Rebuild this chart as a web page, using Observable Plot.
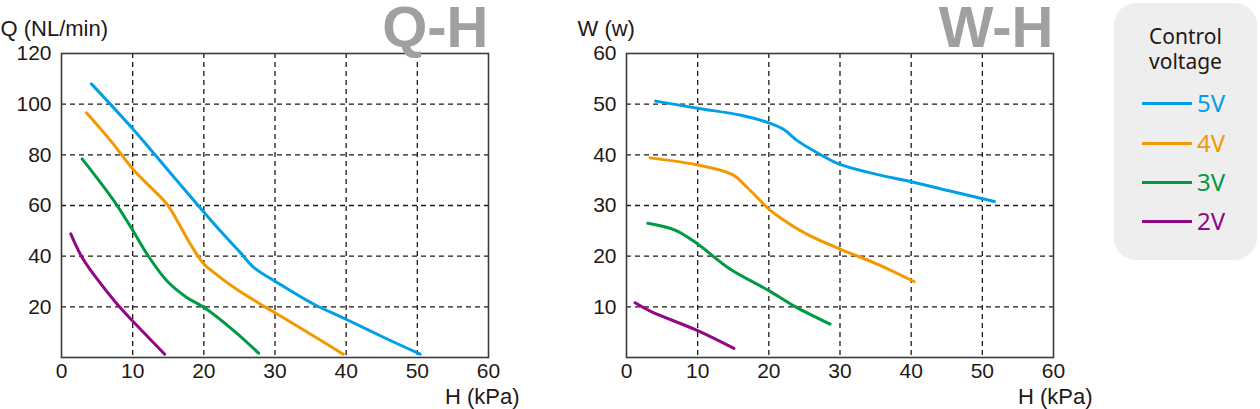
<!DOCTYPE html>
<html><head><meta charset="utf-8">
<script src="https://cdn.jsdelivr.net/npm/d3@7"></script>
<script src="https://cdn.jsdelivr.net/npm/@observablehq/plot@0.6"></script>
<style>
html,body{margin:0;padding:0;background:#fff;}
#wrap{position:relative;width:1260px;height:409px;overflow:hidden;}
.chart{position:absolute;top:0;}
#legend{position:absolute;left:1114px;top:3px;width:143px;height:257px;background:#eeeeee;border-radius:22px;font-family:"Noto Sans",sans-serif;color:#231815;}
#legend .ttl{position:absolute;left:0;right:0;text-align:center;font-size:21px;line-height:20px;}
#legend .row{position:absolute;left:28px;height:30px;display:flex;align-items:center;}
#legend .sw{width:50px;height:3px;margin-right:5px;}
#legend .lb{font-size:24px;line-height:30px;}
</style></head>
<body><div id="wrap"><div id="legend"><div class="ttl" style="top:23px">Control</div><div class="ttl" style="top:48px">voltage</div></div></div>
<script>
const series = ["5V","4V","3V","2V"];
const colors = ["#00a0e9","#f39800","#009944","#920783"];
const xTicks = [0,10,20,30,40,50,60];
const qTicks = [20,40,60,80,100,120];
const wTicks = [10,20,30,40,50,60];

// Q-H curves: [H (kPa), Q (NL/min)]
const qh5V = [[4.2,108],[10,90.3],[14.8,74.5],[19.8,58],[22.3,50],[25.1,41.5],[27,35.6],[30.3,29.6],[35.4,21.1],[39.9,15.2],[45.3,7.9],[50.4,1.3]];
const qh4V = [[3.5,96.6],[6.9,85.6],[10.2,73.8],[14.8,60.6],[16,55.3],[18.1,44.8],[20,36.9],[21.4,33.6],[24.2,27.7],[27.9,21.1],[30.3,17.2],[35,9.2],[39.6,1.3]];
const qh3V = [[2.9,78.4],[7.35,61.9],[9.9,50.7],[12,40.9],[14.8,30.3],[17.6,23.7],[20,19.8],[24.2,10.6],[27.7,1.7]];
const qh2V = [[1.3,48.8],[2.9,39.5],[5,31],[7.8,21.1],[10.2,13.8],[14.5,1.3]];

// W-H curves: [H (kPa), W (w)]
const wh5V = [[4.1,50.6],[10,49.2],[16.1,47.8],[20,46.3],[22.1,45],[24,42.8],[26.8,40.4],[30,38.1],[35.3,36.1],[40,34.7],[45.6,32.8],[51.7,30.8]];
const wh4V = [[3.3,39.4],[10,38],[14.9,36.1],[17,33.5],[20,29.3],[21.7,27.5],[25.4,24.3],[30,21.4],[35.3,18.4],[40.4,15]];
const wh3V = [[3,26.5],[6.9,25.1],[10,22.4],[14.6,17.4],[20,13.2],[23.5,10.2],[28.6,6.6]];
const wh2V = [[1.2,10.8],[3.4,9.1],[10,5.3],[15.1,1.8]];

function rows(list){
  return list.flatMap((pts,i)=>pts.map(([h,v])=>({series:series[i],h,v})));
}

function chart({data, yMax, yTicks, yLabel, title, hDx, lDx}){
  const grid = {stroke:"#231815", strokeOpacity:1, strokeDasharray:"5,4", strokeWidth:1.3};
  const el = Plot.plot({
    width:540, height:409, marginLeft:61, marginRight:52, marginTop:53, marginBottom:52,
    x:{domain:[0,60]}, y:{domain:[0,yMax]},
    color:{domain:series, range:colors},
    style:{fontFamily:"'Liberation Sans', Arial, sans-serif", fontSize:"21px", color:"#231815", background:"transparent", overflow:"visible"},
    marks:[
      Plot.gridX(xTicks.filter(d=>d>0&&d<60), grid),
      Plot.gridY(yTicks.filter(d=>d<yMax), grid),
      Plot.line(rows(data), {x:"h", y:"v", stroke:"series", curve:"catmull-rom", strokeWidth:3}),
      Plot.frame({stroke:"#3e3a39", strokeWidth:1.6}),
      Plot.axisX(xTicks, {tickSize:0, tickPadding:6, label:null, fontSize:21}),
      Plot.axisY(yTicks, {tickSize:0, tickPadding:10, label:null, fontSize:21}),
      Plot.text([yLabel], {text:d=>d, frameAnchor:"top-left", textAnchor:"start", dx:lDx, dy:-33, fontSize:22}),
      Plot.text([title], {text:d=>d, frameAnchor:"top-right", textAnchor:"end", dy:-48, fontSize:58, fontWeight:"bold", fill:"#a0a0a0"}),
      Plot.text(["H (kPa)"], {text:d=>d, frameAnchor:"bottom-right", textAnchor:"end", dx:hDx, dy:46, fontSize:22})
    ]
  });
  el.classList.add("chart");
  return el;
}

const wrap = document.getElementById("wrap");
const c1 = chart({data:[qh5V,qh4V,qh3V,qh2V], yMax:120, yTicks:qTicks, yLabel:"Q (NL/min)", title:"Q-H", hDx:31, lDx:-61});
c1.style.left = "0px";
const c2 = chart({data:[wh5V,wh4V,wh3V,wh2V], yMax:60, yTicks:wTicks, yLabel:"W (w)", title:"W-H", hDx:39, lDx:-49});
c2.style.left = "565px";
wrap.appendChild(c1); wrap.appendChild(c2);

const legend = document.getElementById("legend");
const rowTops = [85,125,164,203];
series.forEach((s,i)=>{
  const r = document.createElement("div");
  r.className="row"; r.style.top = rowTops[i]+"px";
  r.innerHTML = `<div class="sw" style="background:${colors[i]}"></div><div class="lb" style="color:${colors[i]}">${s}</div>`;
  legend.appendChild(r);
});
</script></body></html>
